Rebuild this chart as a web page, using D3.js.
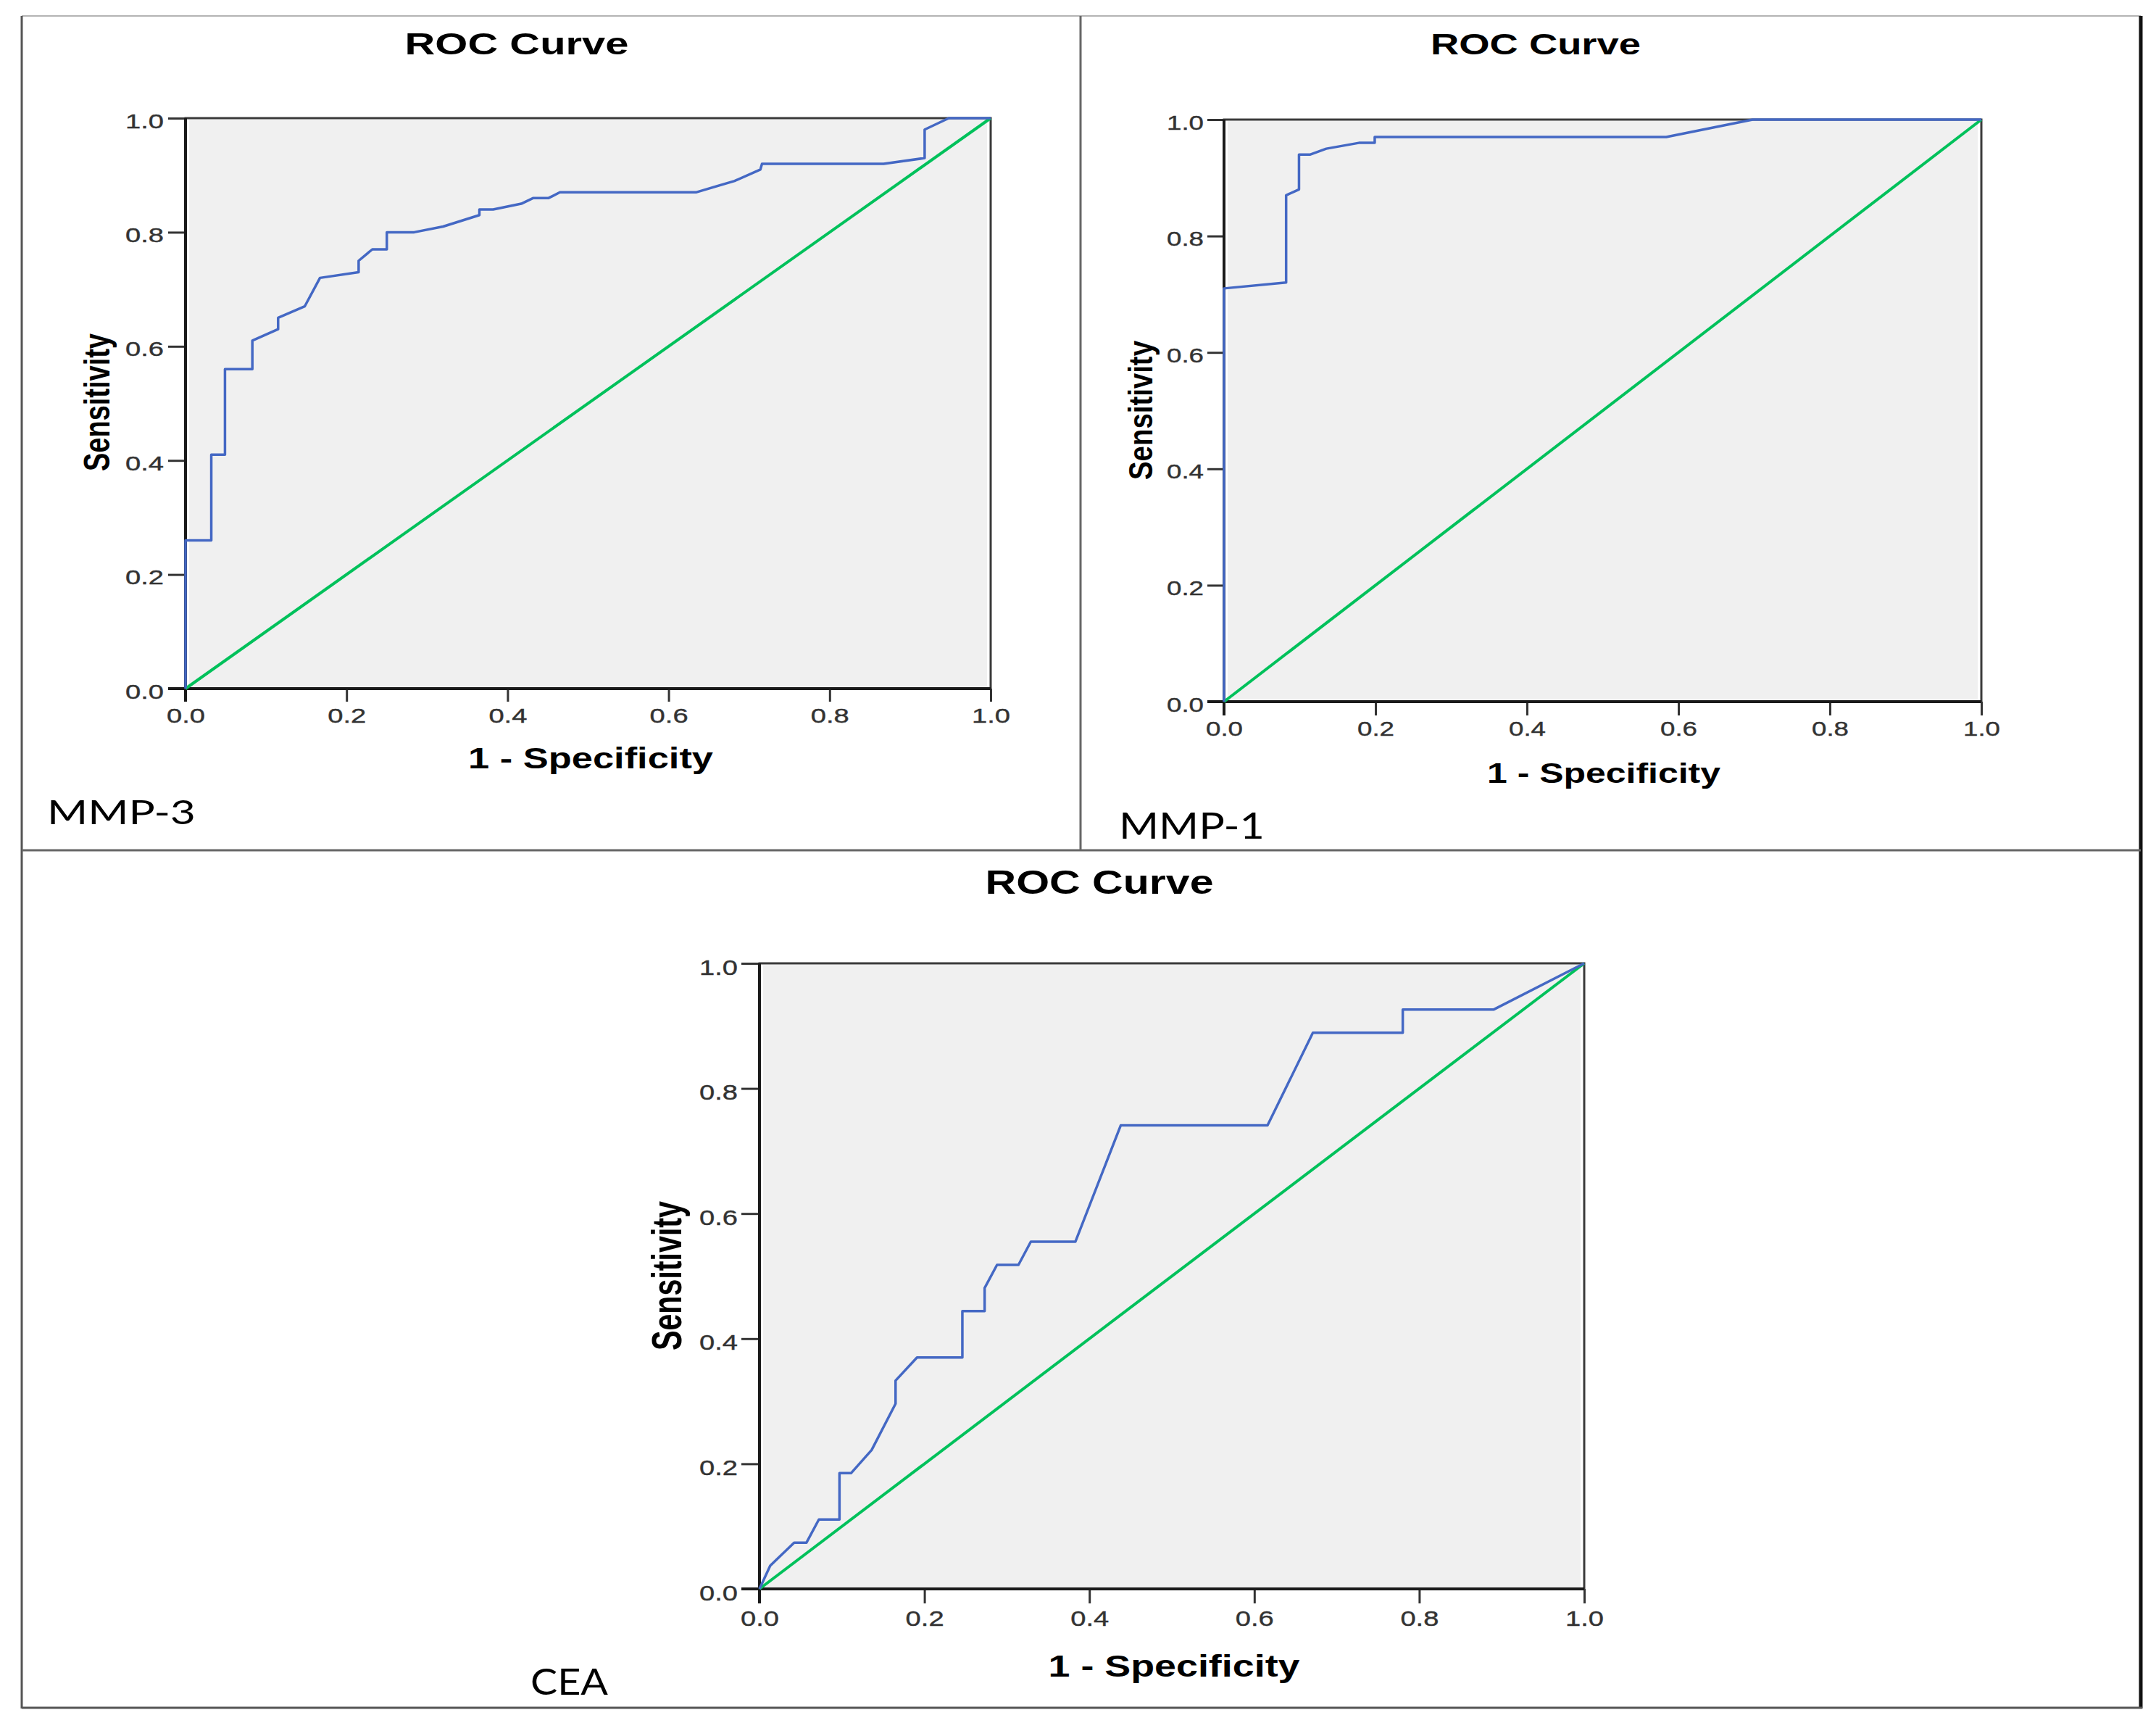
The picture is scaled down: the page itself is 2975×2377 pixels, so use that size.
<!DOCTYPE html>
<html>
<head>
<meta charset="utf-8">
<script src="https://cdn.jsdelivr.net/npm/d3@7"></script>
<style>
  html, body { margin: 0; padding: 0; background: #fff; }
  svg { display: block; }
  .tick text { font-family: "Liberation Sans", Arial, sans-serif; fill: #333; }
</style>
</head>
<body>
<div id="chart"></div>
<script>
'use strict';

// ROC points: x = 1 - specificity, y = sensitivity
const mmp3Fpr = [0, 0, 0.032, 0.032, 0.049, 0.049, 0.083, 0.083, 0.115, 0.115, 0.148, 0.167, 0.215, 0.215,
                 0.232, 0.25, 0.25, 0.284, 0.32, 0.365, 0.365, 0.382, 0.417, 0.432, 0.451, 0.465, 0.634,
                 0.682, 0.714, 0.716, 0.867, 0.918, 0.918, 0.948, 1.0];
const mmp3Tpr = [0, 0.26, 0.26, 0.41, 0.41, 0.56, 0.56, 0.61, 0.63, 0.65, 0.67, 0.72, 0.73, 0.75,
                 0.77, 0.77, 0.80, 0.80, 0.81, 0.83, 0.84, 0.84, 0.85, 0.86, 0.86, 0.87, 0.87,
                 0.89, 0.91, 0.92, 0.92, 0.93, 0.98, 1.0, 1.0];

const mmp1Fpr = [0, 0, 0.082, 0.082, 0.099, 0.099, 0.114, 0.135, 0.178, 0.199, 0.199, 0.584, 0.698, 1.0];
const mmp1Tpr = [0, 0.71, 0.72, 0.87, 0.88, 0.94, 0.94, 0.95, 0.96, 0.96, 0.97, 0.97, 1.0, 1.0];

const ceaFpr = [0, 0.013, 0.042, 0.057, 0.072, 0.097, 0.097, 0.111, 0.136, 0.165, 0.165, 0.191, 0.246,
                0.246, 0.273, 0.273, 0.288, 0.314, 0.329, 0.383, 0.438, 0.616, 0.671, 0.780, 0.780,
                0.890, 1.0];
const ceaTpr = [0, 0.037, 0.074, 0.074, 0.111, 0.111, 0.185, 0.185, 0.222, 0.296, 0.333, 0.370, 0.370,
                0.444, 0.444, 0.481, 0.518, 0.518, 0.555, 0.555, 0.741, 0.741, 0.889, 0.889, 0.926,
                0.926, 1.0];

const refLine = [0, 1];
const tickValues = [0, 0.2, 0.4, 0.6, 0.8, 1.0];
const panelNames = ['MMP-3', 'MMP-1', 'CEA'];
const chartTitle = 'ROC Curve';
const xTitle = '1 - Specificity';
const yTitle = 'Sensitivity';

const W = 2975, H = 2377;
const svg = d3.select('#chart').append('svg').attr('width', W).attr('height', H);
svg.append('rect').attr('width', W).attr('height', H).attr('fill', '#fff');

// page frame and dividers
const frame = svg.append('g');
frame.append('line').attr('x1', 30).attr('y1', 22).attr('x2', 2954).attr('y2', 22)
     .attr('stroke', '#b4b4b4').attr('stroke-width', 2);
frame.append('line').attr('x1', 30).attr('y1', 22).attr('x2', 30).attr('y2', 2357)
     .attr('stroke', '#555').attr('stroke-width', 3);
frame.append('line').attr('x1', 2954).attr('y1', 22).attr('x2', 2954).attr('y2', 2357)
     .attr('stroke', '#111').attr('stroke-width', 5);
frame.append('line').attr('x1', 30).attr('y1', 2356).attr('x2', 2956).attr('y2', 2356)
     .attr('stroke', '#555').attr('stroke-width', 3);
frame.append('line').attr('x1', 30).attr('y1', 1173).attr('x2', 2954).attr('y2', 1173)
     .attr('stroke', '#666').attr('stroke-width', 3);
frame.append('line').attr('x1', 1491).attr('y1', 22).attr('x2', 1491).attr('y2', 1173)
     .attr('stroke', '#666').attr('stroke-width', 3);

const layouts = [
  {fpr: mmp3Fpr, tpr: mmp3Tpr, box: {l: 256, r: 1367, t: 163, b: 950},
   title: {x: 713, y: 75, size: 42, len: 309},
   xlab: {x: 815, y: 1060, size: 40, len: 338},
   ylab: {x: 151, y: 555, size: 38, len: 190, sx: 1.3},
   tick: {size: 28, len: 53, yTick: 24, yPad: 6, yDy: 13, xTick: 18, xOff: 47},
   tag: {x: 65, y: 1137, size: 46, len: 205}},
  {fpr: mmp1Fpr, tpr: mmp1Tpr, box: {l: 1689, r: 2734, t: 165, b: 968},
   title: {x: 2119, y: 75, size: 40, len: 290},
   xlab: {x: 2213, y: 1080, size: 38, len: 322},
   ylab: {x: 1590, y: 566, size: 38, len: 192, sx: 1.2},
   tick: {size: 28, len: 51, yTick: 23, yPad: 5, yDy: 13, xTick: 19, xOff: 47},
   tag: {x: 1544, y: 1157, size: 50, len: 201}},
  {fpr: ceaFpr, tpr: ceaTpr, box: {l: 1048, r: 2186, t: 1329, b: 2192},
   title: {x: 1517, y: 1233, size: 46, len: 315},
   xlab: {x: 1620, y: 2313, size: 42, len: 347},
   ylab: {x: 940, y: 1760, size: 42, len: 206, sx: 1.35},
   tick: {size: 30, len: 53, yTick: 25, yPad: 5, yDy: 15, xTick: 20, xOff: 51},
   tag: {x: 732, y: 2338, size: 51, len: 107}},
];

const fmt = d3.format('.1f');

layouts.forEach((p, i) => {
  const g = svg.append('g');
  const x = d3.scaleLinear().domain([0, 1]).range([p.box.l, p.box.r]);
  const y = d3.scaleLinear().domain([0, 1]).range([p.box.b, p.box.t]);

  // plot background, SPSS leaves a thin white strip inside the axes
  g.append('rect')
   .attr('x', x(0) + 5).attr('y', y(1) + 2)
   .attr('width', x(1) - x(0) - 10).attr('height', y(0) - y(1) - 4)
   .attr('fill', '#f0f0f0');

  // axes
  const yAxis = d3.axisLeft(y).tickValues(tickValues).tickFormat(fmt)
                  .tickSize(p.tick.yTick).tickPadding(p.tick.yPad).tickSizeOuter(0);
  const yg = g.append('g').attr('transform', 'translate(' + x(0) + ',0)').call(yAxis);
  const xAxis = d3.axisBottom(x).tickValues(tickValues).tickFormat(fmt)
                  .tickSize(p.tick.xTick).tickSizeOuter(0);
  const xg = g.append('g').attr('transform', 'translate(0,' + y(0) + ')').call(xAxis);
  [yg, xg].forEach(a => {
    a.select('.domain').remove();
    a.selectAll('.tick line').attr('stroke', '#333').attr('stroke-width', 3);
    a.selectAll('.tick text')
     .attr('font-size', p.tick.size)
     .attr('stroke', '#333').attr('stroke-width', 0.4)
     .attr('textLength', p.tick.len).attr('lengthAdjust', 'spacingAndGlyphs');
  });
  yg.selectAll('.tick text').attr('dy', null).attr('y', p.tick.yDy);
  xg.selectAll('.tick text').attr('dy', null).attr('y', p.tick.xOff);

  // frame of the plot area
  g.append('rect')
   .attr('x', x(0)).attr('y', y(1))
   .attr('width', x(1) - x(0)).attr('height', y(0) - y(1))
   .attr('fill', 'none').attr('stroke', '#3a3a3a').attr('stroke-width', 3);
  g.append('line').attr('x1', x(0)).attr('y1', y(1)).attr('x2', x(0)).attr('y2', y(0) + p.tick.xTick)
   .attr('stroke', '#1a1a1a').attr('stroke-width', 4);
  g.append('line').attr('x1', x(0) - p.tick.yTick).attr('y1', y(0)).attr('x2', x(1)).attr('y2', y(0))
   .attr('stroke', '#1a1a1a').attr('stroke-width', 4);

  // reference diagonal
  const line = d3.line().x(d => x(d[0])).y(d => y(d[1]));
  g.append('path')
   .datum(refLine.map(v => [v, v]))
   .attr('d', line)
   .attr('fill', 'none').attr('stroke', '#00c15b').attr('stroke-width', 4);

  // ROC curve
  g.append('path')
   .datum(p.fpr.map((v, j) => [v, p.tpr[j]]))
   .attr('d', line)
   .attr('fill', 'none').attr('stroke', '#4468c4').attr('stroke-width', 3.5)
   .attr('stroke-linejoin', 'round');

  // texts
  g.append('text').attr('x', p.title.x).attr('y', p.title.y)
   .attr('text-anchor', 'middle')
   .attr('font-family', '"Liberation Sans", Arial, sans-serif').attr('font-weight', 'bold')
   .attr('font-size', p.title.size)
   .attr('textLength', p.title.len).attr('lengthAdjust', 'spacingAndGlyphs')
   .text(chartTitle);

  g.append('text').attr('x', p.xlab.x).attr('y', p.xlab.y)
   .attr('text-anchor', 'middle')
   .attr('font-family', '"Liberation Sans", Arial, sans-serif').attr('font-weight', 'bold')
   .attr('font-size', p.xlab.size)
   .attr('textLength', p.xlab.len).attr('lengthAdjust', 'spacingAndGlyphs')
   .text(xTitle);

  g.append('text')
   .attr('transform', 'translate(' + p.ylab.x + ',' + p.ylab.y + ') scale(' + p.ylab.sx + ',1) rotate(-90)')
   .attr('text-anchor', 'middle')
   .attr('font-family', '"Liberation Sans", Arial, sans-serif').attr('font-weight', 'bold')
   .attr('font-size', p.ylab.size)
   .attr('textLength', p.ylab.len).attr('lengthAdjust', 'spacingAndGlyphs')
   .text(yTitle);

  g.append('text').attr('x', p.tag.x).attr('y', p.tag.y)
   .attr('font-family', 'Lato, "Open Sans", sans-serif')
   .attr('font-size', p.tag.size)
   .attr('textLength', p.tag.len).attr('lengthAdjust', 'spacingAndGlyphs')
   .text(panelNames[i]);
});
</script>
</body>
</html>
